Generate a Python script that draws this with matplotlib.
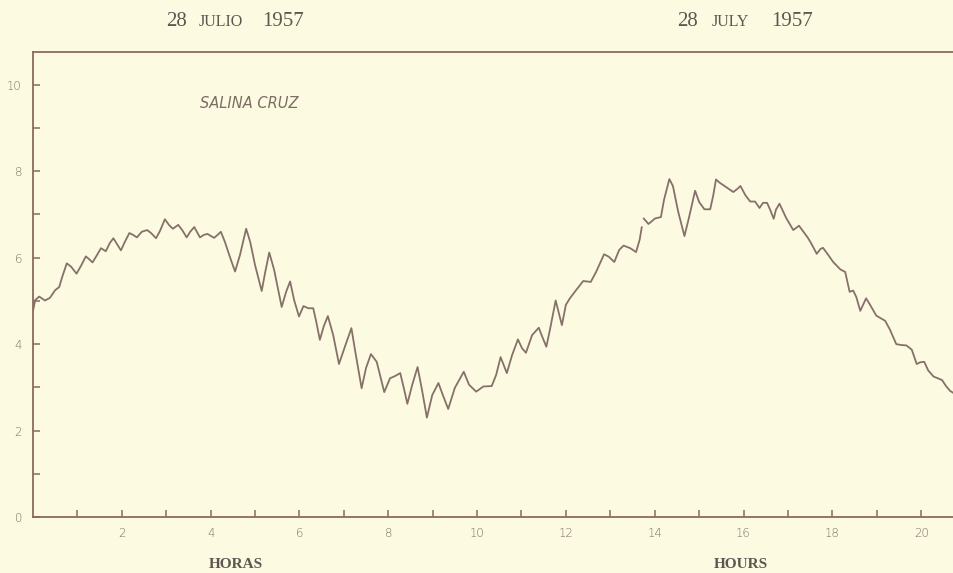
import matplotlib
matplotlib.use("Agg")
import matplotlib.pyplot as plt
import numpy as np

# ---- data (hours, height) read from the tide record ----
hours_a = [0.00, 0.05, 0.14, 0.27, 0.38, 0.50, 0.59, 0.65, 0.76, 0.86, 0.98, 1.08, 1.19, 1.26, 1.34,
           1.44, 1.53, 1.64, 1.73, 1.81, 1.89, 1.98, 2.07, 2.17, 2.25, 2.34, 2.45, 2.57, 2.66, 2.77,
           2.86, 2.97, 3.06, 3.15, 3.27, 3.36, 3.46, 3.54, 3.63, 3.69, 3.76, 3.85, 3.93, 4.01, 4.08,
           4.16, 4.23, 4.32, 4.44, 4.55, 4.66, 4.80, 4.89, 5.00, 5.15, 5.23, 5.32, 5.43, 5.60, 5.70,
           5.79, 5.88, 5.99, 6.09, 6.20, 6.31, 6.37, 6.46, 6.55, 6.64, 6.76, 6.89, 7.03, 7.17, 7.27,
           7.40, 7.50, 7.61, 7.74, 7.82, 7.91, 8.04, 8.15, 8.27, 8.36, 8.43, 8.54, 8.66, 8.76, 8.87,
           8.99, 9.13, 9.23, 9.35, 9.50, 9.70, 9.82, 9.98, 10.14, 10.33, 10.43, 10.53, 10.67, 10.79,
           10.92, 11.01, 11.10, 11.24, 11.39, 11.46, 11.56, 11.64, 11.77, 11.85, 11.91, 12.00, 12.09,
           12.23, 12.39, 12.56, 12.68, 12.86, 12.97, 13.09, 13.20, 13.30, 13.45, 13.58, 13.66, 13.71]
height_a = [4.77, 5.02, 5.10, 5.01, 5.07, 5.25, 5.32, 5.53, 5.87, 5.79, 5.63, 5.81, 6.03, 5.97, 5.89,
            6.06, 6.22, 6.15, 6.34, 6.45, 6.32, 6.17, 6.37, 6.57, 6.53, 6.47, 6.60, 6.64, 6.57, 6.45,
            6.62, 6.89, 6.76, 6.67, 6.76, 6.64, 6.47, 6.60, 6.71, 6.60, 6.47, 6.53, 6.55, 6.50, 6.46,
            6.53, 6.60, 6.37, 6.00, 5.68, 6.06, 6.67, 6.37, 5.83, 5.23, 5.67, 6.12, 5.72, 4.86, 5.21,
            5.45, 5.02, 4.64, 4.88, 4.83, 4.83, 4.56, 4.10, 4.42, 4.65, 4.21, 3.54, 3.96, 4.37, 3.75,
            2.98, 3.45, 3.77, 3.59, 3.26, 2.89, 3.21, 3.26, 3.33, 2.94, 2.62, 3.06, 3.47, 2.94, 2.30,
            2.82, 3.10, 2.82, 2.50, 2.99, 3.36, 3.06, 2.90, 3.02, 3.03, 3.29, 3.70, 3.33, 3.75,
            4.11, 3.91, 3.80, 4.21, 4.38, 4.19, 3.94, 4.33, 5.01, 4.68, 4.44, 4.91, 5.06,
            5.25, 5.46, 5.44, 5.67, 6.08, 6.02, 5.90, 6.18, 6.28, 6.22, 6.13, 6.41, 6.71]

hours_b = [13.75, 13.86, 14.01, 14.14, 14.21, 14.33, 14.41, 14.53, 14.67, 14.77, 14.91, 15.00, 15.12,
           15.25, 15.32, 15.38, 15.47, 15.60, 15.77, 15.86, 15.93, 16.04, 16.15, 16.26, 16.36, 16.44,
           16.53, 16.60, 16.68, 16.73, 16.81, 16.96, 17.12, 17.25, 17.35, 17.45, 17.52, 17.65, 17.73,
           17.79, 17.91, 18.02, 18.18, 18.29, 18.39, 18.47, 18.54, 18.63, 18.76, 18.85, 18.99, 19.19,
           19.30, 19.44, 19.55, 19.67, 19.79, 19.90, 19.98, 20.07, 20.16, 20.28, 20.47, 20.56, 20.65, 20.74]
height_b = [6.91, 6.78, 6.91, 6.94, 7.34, 7.82, 7.66, 7.06, 6.50, 6.92, 7.55, 7.29, 7.12,
            7.12, 7.45, 7.81, 7.73, 7.64, 7.52, 7.59, 7.66, 7.45, 7.30, 7.30, 7.15, 7.27,
            7.27, 7.11, 6.90, 7.11, 7.25, 6.92, 6.64, 6.74, 6.60, 6.46, 6.34, 6.09, 6.20,
            6.23, 6.06, 5.90, 5.73, 5.67, 5.21, 5.24, 5.09, 4.77, 5.06, 4.91, 4.66, 4.54,
            4.33, 4.00, 3.98, 3.97, 3.87, 3.54, 3.58, 3.59, 3.39, 3.25, 3.17, 3.03, 2.92, 2.86]

x_major = [2, 4, 6, 8, 10, 12, 14, 16, 18, 20]
y_major = [0, 2, 4, 6, 8, 10]

# ---- styling ----
BG = "#fcfbe2"
INK = "#87706a"
AX = "#8c6a5f"
TXT = "#7d6c64"
TITLE = "#5f5550"

fig = plt.figure(figsize=(9.54, 5.73), dpi=100, facecolor=BG)
ax = fig.add_axes([33 / 954, 56 / 573, 921 / 954, 465 / 573])
ax.set_facecolor(BG)

ax.plot(hours_a, height_a, color=INK, lw=1.3, solid_joinstyle="round", solid_capstyle="round")
ax.plot(hours_b, height_b, color=INK, lw=1.3, solid_joinstyle="round", solid_capstyle="round")

ax.set_xlim(0, 20.74)
ax.set_ylim(0, 10.76)

for s in ["left", "bottom", "top"]:
    ax.spines[s].set_color(AX)
    ax.spines[s].set_linewidth(1.3)
ax.spines["right"].set_visible(False)

ax.set_xticks(np.arange(1, 21))
ax.set_xticklabels([str(h) if h in x_major else "" for h in range(1, 21)])
ax.set_yticks(np.arange(0, 11))
ax.set_yticklabels([str(v) if v in y_major else "" for v in range(0, 11)])
ax.tick_params(axis="both", direction="in", length=5, width=1.1, color=AX,
               labelcolor=TXT, labelsize=8.5, pad=7)
ax.tick_params(axis="y", pad=8)
for lab in ax.get_xticklabels() + ax.get_yticklabels():
    lab.set_fontfamily("DejaVu Sans")
    lab.set_fontweight("light")

ax.text(200 / 954, 1 - 103 / 573, "SALINA CRUZ", transform=fig.transFigure, fontsize=10.5,
        style="italic", color=TXT, family="DejaVu Sans", fontweight="light", va="center")

serif = "Liberation Serif"
# titles: "28 JULIO 1957" / "28 JULY 1957" with small-caps month
fig.text(166 / 954, 1 - 21 / 573, "28", fontsize=15, family=serif, color=TITLE, va="center")
fig.text(199 / 954, 1 - 22.5 / 573, "JULIO", fontsize=11.5, family=serif, color=TITLE, va="center")
fig.text(262 / 954, 1 - 21 / 573, "1957", fontsize=15, family=serif, color=TITLE, va="center")
fig.text(677 / 954, 1 - 21 / 573, "28", fontsize=15, family=serif, color=TITLE, va="center")
fig.text(712 / 954, 1 - 22.5 / 573, "JULY", fontsize=11.5, family=serif, color=TITLE, va="center")
fig.text(771 / 954, 1 - 21 / 573, "1957", fontsize=15, family=serif, color=TITLE, va="center")

fig.text(236 / 954, 1 - 564 / 573, "HORAS", fontsize=11, family=serif, fontweight="bold",
         color=TITLE, ha="center", va="center")
fig.text(741 / 954, 1 - 564 / 573, "HOURS", fontsize=11, family=serif, fontweight="bold",
         color=TITLE, ha="center", va="center")

fig.savefig("out.png", dpi=100, facecolor=BG)
